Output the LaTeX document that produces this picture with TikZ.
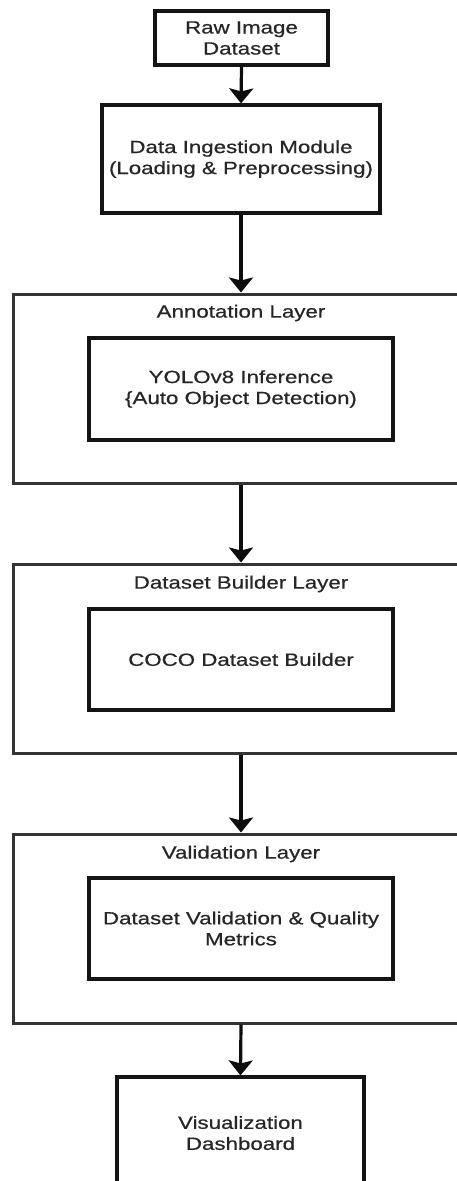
\documentclass[tikz,border=0pt]{standalone}
\usepackage{fontspec}
\setmainfont{Liberation Sans}[FakeStretch=1.26,FakeBold=0.6]
\usetikzlibrary{arrows.meta}
\begin{document}
\begin{tikzpicture}[x=1pt,y=-1pt,
  every node/.style={font=\fontsize{17.7}{21}\selectfont, text=black!85, align=center},
  blk/.style={draw=black!92, line width=3.2pt, fill=white, inner sep=0pt},
  layer/.style={draw=black!80, line width=3pt, inner sep=0pt},
  flow/.style={draw=black!95, line width=3.2pt, -{Stealth[length=15pt,width=24pt,inset=3pt]}}]
  \useasboundingbox (0,0) rectangle (457,1181);
  \clip (0,0) rectangle (457,1181);

  % source and ingestion
  \node[blk, minimum width=173pt, minimum height=54pt] (raw) at (241.5,38) {Raw Image\\Dataset};
  \node[blk, minimum width=278pt, minimum height=108pt] (ingest) at (241,159) {Data Ingestion Module\\(Loading \& Preprocessing)};

  % annotation layer
  \node[layer, minimum width=456pt, minimum height=189pt] (annL) at (241,388.5) {};
  \node (annT) at (241,313) {Annotation Layer};
  \node[blk, minimum width=304pt, minimum height=102pt] (yolo) at (241,389) {YOLOv8 Inference\\\{Auto Object Detection)};

  % dataset builder layer
  \node[layer, minimum width=456pt, minimum height=189pt] (bldL) at (241,658.5) {};
  \node (bldT) at (241,584) {Dataset Builder Layer};
  \node[blk, minimum width=304pt, minimum height=101pt] (coco) at (241,659.5) {COCO Dataset Builder};

  % validation layer
  \node[layer, minimum width=456pt, minimum height=189pt] (valL) at (241,928.5) {};
  \node (valT) at (241,854) {Validation Layer};
  \node[blk, minimum width=304pt, minimum height=101pt] (vali) at (241,928.5) {Dataset Validation \& Quality\\Metrics};

  % output
  \node[blk, minimum width=247pt, minimum height=112pt] (viz) at (240.5,1133) {Visualization\\Dashboard};

  % connectors
  \draw[flow] (raw.south) -- (ingest.north);
  \draw[flow] (ingest.south) -- (annL.north);
  \draw[flow] (annL.south) -- (bldL.north);
  \draw[flow] (bldL.south) -- (valL.north);
  \draw[flow] (valL.south) -- (viz.north);
\end{tikzpicture}
\end{document}
